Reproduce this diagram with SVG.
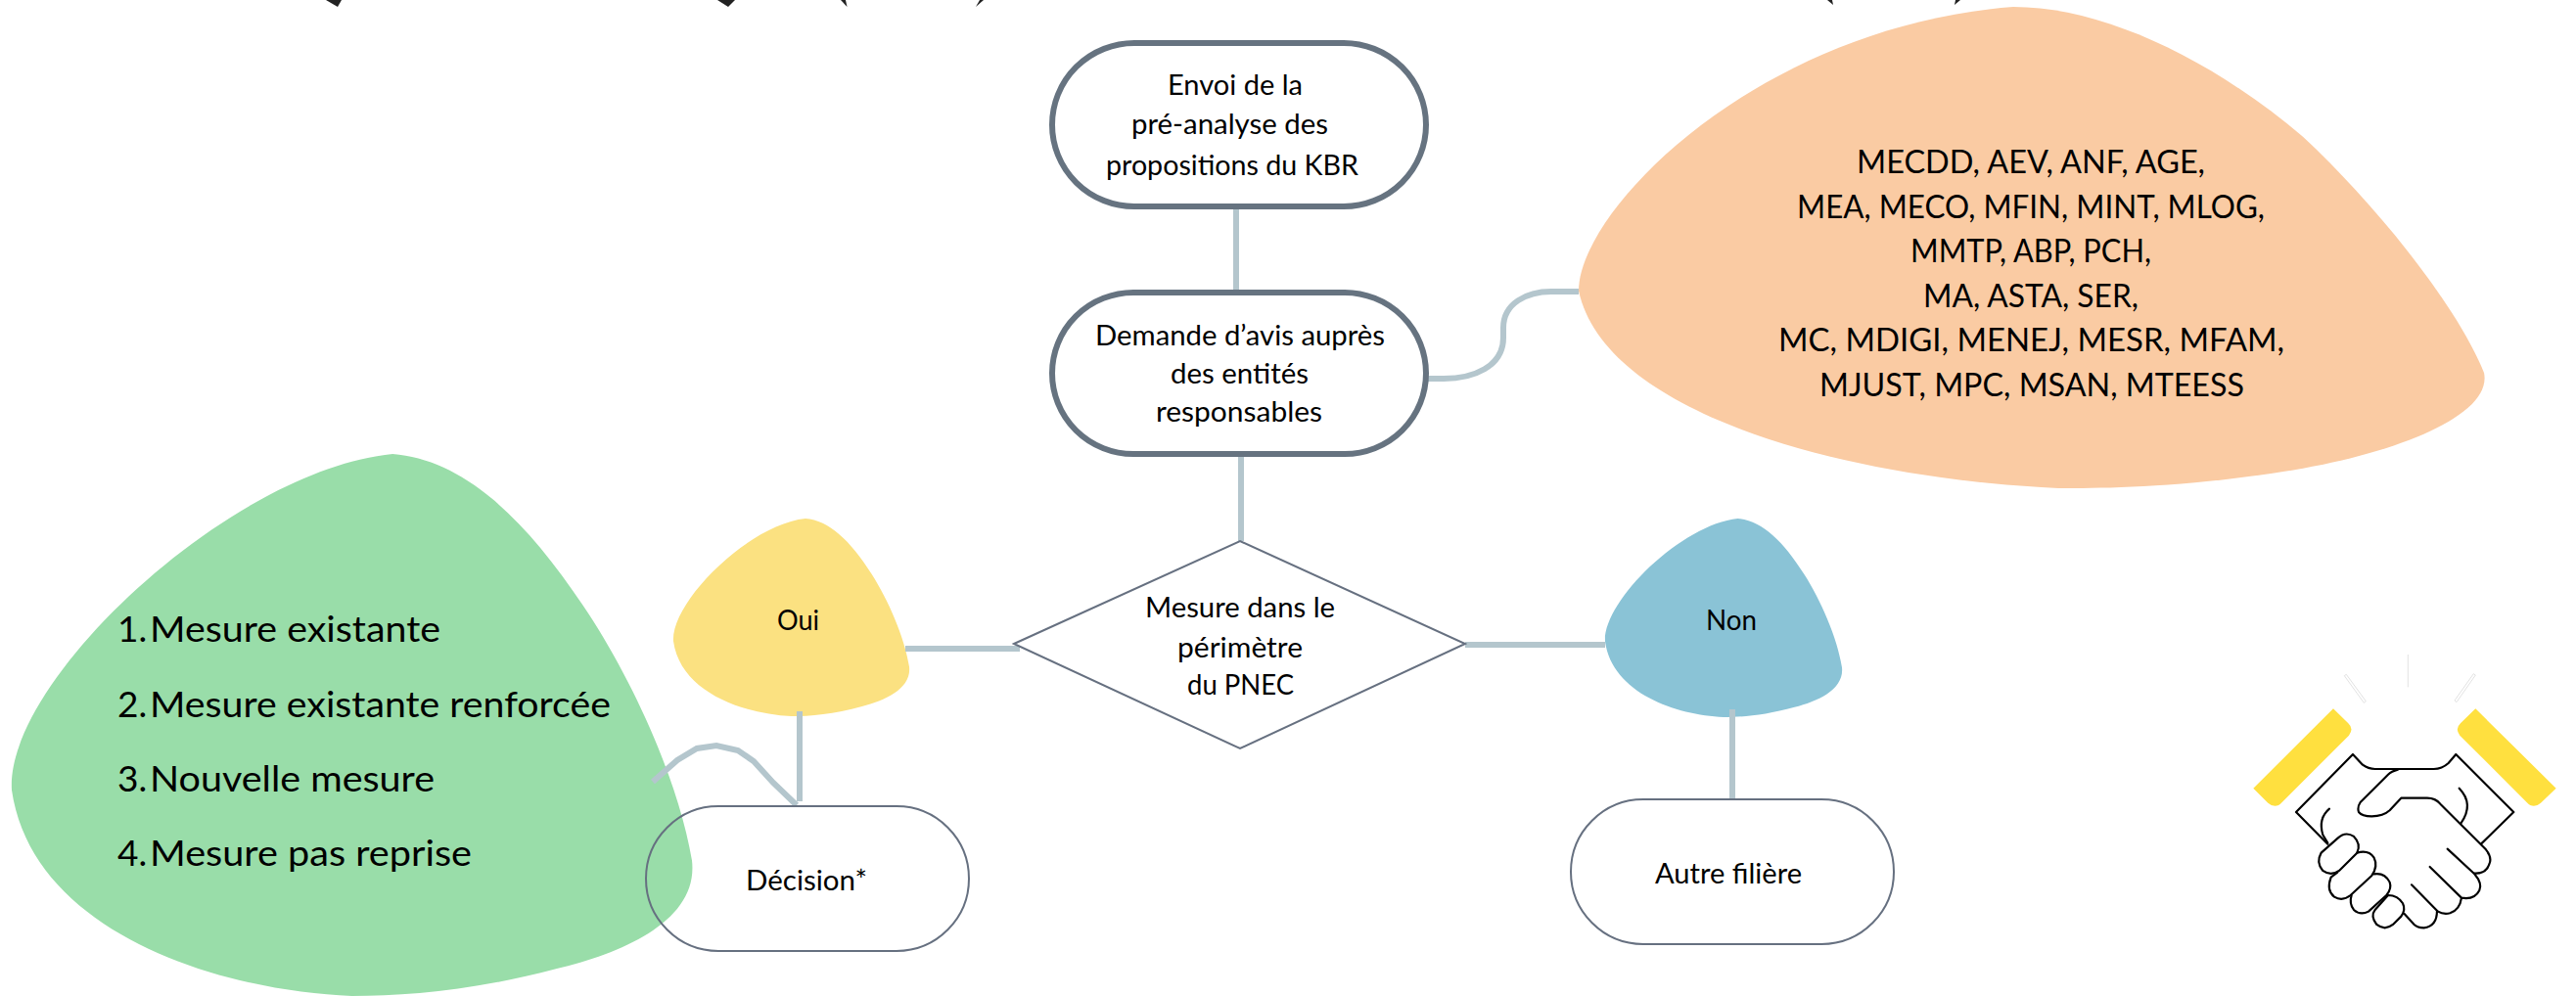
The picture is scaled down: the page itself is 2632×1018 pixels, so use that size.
<svg xmlns="http://www.w3.org/2000/svg" width="2632" height="1018" viewBox="0 0 2632 1018">
<style>
text{font-family:"Lato","Open Sans","Liberation Sans",sans-serif;fill:#000;font-size:29px;text-anchor:start}
.big{font-size:32px}.list{font-size:37px}
.pill{fill:#fff;stroke:#667380;stroke-width:6}
.thin{fill:none;stroke:#667080;stroke-width:2}
.c{fill:none;stroke:#b4c6cd;stroke-width:6}
.h{fill:none;stroke:#000;stroke-width:6.5;stroke-linecap:round;stroke-linejoin:round}
</style>
<defs>
<path id="blob" d="M56,0C66,1 75,11 84,28C91,41 98,60 100,75C101,86 90,92 80,95C68,99 58,100 50,100C30,99 3,88 0,62C-1,42 32,3 56,0Z"/>
<path id="blobp" d="M48,0C58,0 70,11 80,27C88,41 97,62 100,76C101,85 90,93 78,96.5C66,100 58,100 53,100C30,98 3,85 0,59C0,42 20,4 48,0Z"/>
</defs>
<rect width="2632" height="1018" fill="#fff"/>
<g id="title-fragments" fill="#222">
<path d="M333,0L349,0L345,7Z"/><path d="M733,0L751,0L744,7Z"/><path d="M859,0L864,0L865.5,7Z"/><path d="M1001,0L1005,0L997,7Z"/><path d="M1867,0L1872,0L1873,5Z"/><path d="M1998,0L2003,0L1997,5Z"/>
</g>
<g id="blob-green"><use href="#blob" fill="#99dda9" transform="translate(12,464) scale(6.95,5.54)"/></g>
<g id="blob-peach"><use href="#blobp" fill="#facba3" transform="translate(1613,7) scale(9.25,4.92)"/></g>
<g id="blob-oui"><use href="#blob" fill="#fbe181" transform="translate(688,530) scale(2.41,2.02)"/></g>
<g id="blob-non"><use href="#blob" fill="#8ac3d6" transform="translate(1640,530) scale(2.42,2.03)"/></g>
<g id="connectors">
<path class="c" d="M1263,212V296"/>
<path class="c" d="M1459,387H1475C1505,387 1536,375 1536,345V335C1536,310 1560,298 1585,298H1613"/>
<path class="c" d="M1268,467V553"/>
<path class="c" d="M925,663H1042"/>
<path class="c" d="M1497,659H1640"/>
<path class="c" d="M1770,725V817"/>
<path class="c" d="M817,727V819"/>
<path class="c" d="M667,799L692,777L712,765L732,762L754,767L770,778L790,800L814,823"/>
</g>
<g id="node-envoi">
<rect class="pill" x="1075" y="44" width="382" height="167" rx="84"/>
<text x="1193" y="97" textLength="138" lengthAdjust="spacingAndGlyphs">Envoi de la</text>
<text x="1156" y="137" textLength="201" lengthAdjust="spacingAndGlyphs">pré-analyse des</text>
<text x="1130" y="179" textLength="258" lengthAdjust="spacingAndGlyphs">propositions du KBR</text>
</g>
<g id="node-demande">
<rect class="pill" x="1075" y="299" width="382" height="165" rx="83"/>
<text x="1119" y="353" textLength="296" lengthAdjust="spacingAndGlyphs">Demande d’avis auprès</text>
<text x="1196" y="392" textLength="141" lengthAdjust="spacingAndGlyphs">des entités</text>
<text x="1181" y="431" textLength="170" lengthAdjust="spacingAndGlyphs">responsables</text>
</g>
<g id="node-perimetre">
<path d="M1036,658L1267,553L1497,658L1267,765Z" fill="#fff" stroke="#667080" stroke-width="2"/>
<text x="1170" y="631" textLength="194" lengthAdjust="spacingAndGlyphs">Mesure dans le</text>
<text x="1203" y="672" textLength="128" lengthAdjust="spacingAndGlyphs">périmètre</text>
<text x="1213" y="710" textLength="109" lengthAdjust="spacingAndGlyphs">du PNEC</text>
</g>
<g id="label-oui"><text x="794" y="644" textLength="43" lengthAdjust="spacingAndGlyphs">Oui</text></g>
<g id="label-non"><text x="1743" y="644" textLength="52" lengthAdjust="spacingAndGlyphs">Non</text></g>
<g id="node-decision">
<rect class="thin" x="660" y="824" width="330" height="148" rx="74"/>
<text x="762" y="910" textLength="124" lengthAdjust="spacingAndGlyphs">Décision*</text>
</g>
<g id="node-autre">
<rect x="1605" y="817" width="330" height="148" rx="74" fill="#fff" stroke="#667080" stroke-width="2"/>
<text x="1691" y="903" textLength="150" lengthAdjust="spacingAndGlyphs">Autre filière</text>
</g>
<g id="label-entites">
<text class="big" x="1897" y="177" textLength="356" lengthAdjust="spacingAndGlyphs">MECDD, AEV, ANF, AGE,</text>
<text class="big" x="1836" y="223" textLength="478" lengthAdjust="spacingAndGlyphs">MEA, MECO, MFIN, MINT, MLOG,</text>
<text class="big" x="1952" y="268" textLength="246" lengthAdjust="spacingAndGlyphs">MMTP, ABP, PCH,</text>
<text class="big" x="1965" y="314" textLength="220" lengthAdjust="spacingAndGlyphs">MA, ASTA, SER,</text>
<text class="big" x="1817" y="359" textLength="517" lengthAdjust="spacingAndGlyphs">MC, MDIGI, MENEJ, MESR, MFAM,</text>
<text class="big" x="1859" y="405" textLength="434" lengthAdjust="spacingAndGlyphs">MJUST, MPC, MSAN, MTEESS</text>
</g>
<g id="label-liste">
<text class="list" y="656"><tspan x="120">1.</tspan><tspan x="153" textLength="297" lengthAdjust="spacingAndGlyphs">Mesure existante</tspan></text>
<text class="list" y="733"><tspan x="120">2.</tspan><tspan x="153" textLength="471" lengthAdjust="spacingAndGlyphs">Mesure existante renforcée</tspan></text>
<text class="list" y="809"><tspan x="120">3.</tspan><tspan x="153" textLength="291" lengthAdjust="spacingAndGlyphs">Nouvelle mesure</tspan></text>
<text class="list" y="885"><tspan x="120">4.</tspan><tspan x="153" textLength="329" lengthAdjust="spacingAndGlyphs">Mesure pas reprise</tspan></text>
</g>
<g id="handshake" transform="translate(2260,640) scale(.3333)">
<g fill="#ffe03f">
<path d="M372,253L418,298Q436,315 420,335L215,540Q195,562 172,542L127,497Z"/>
<path d="M808,253L762,298Q744,315 760,335L965,540Q985,562 1008,542L1055,497Z"/>
</g>
<g fill="#fff" stroke="#dcdcdc" stroke-width="2.5">
<path d="M601,87V187"/>
<path d="M406,152L412,148L472,230L466,235Z"/>
<path d="M808,150L802,146L744,228L750,233Z"/>
</g>
<path class="h" d="M355,668L258,570L432,393L462,425Q480,438 500,438H680Q705,438 725,420L748,393L925,570L825,668"/>
<path class="h" d="M570,440Q550,445 540,455L455,540Q445,555 450,570Q460,583 490,583Q525,583 545,565L580,527H660Q685,527 700,545L840,685Q860,710 850,730Q840,760 805,758"/>
<path class="h" d="M722,683L805,760Q830,790 820,810Q805,840 765,833L668,738M765,833Q760,870 730,880Q710,885 693,875L612,793M690,873Q690,920 650,925Q630,925 620,915L590,882"/>
<path class="h" d="M360,560Q325,590 340,640L355,665M758,497Q805,545 763,605"/>
<path class="h" d="M386,650Q410,628 435,645Q458,668 445,695L390,750Q365,768 340,750Q318,725 335,695Z"/>
<path class="h" d="M445,695Q480,685 497,710Q510,735 490,765L425,825Q400,845 375,830Q350,810 365,770L385,755"/>
<path class="h" d="M497,760Q530,755 545,785Q552,805 535,825L480,875Q455,888 435,870Q420,850 428,825"/>
<path class="h" d="M540,825Q570,825 585,850Q595,870 580,890L555,915Q530,935 505,915Q485,890 500,870Z"/>
</g>
</svg>
